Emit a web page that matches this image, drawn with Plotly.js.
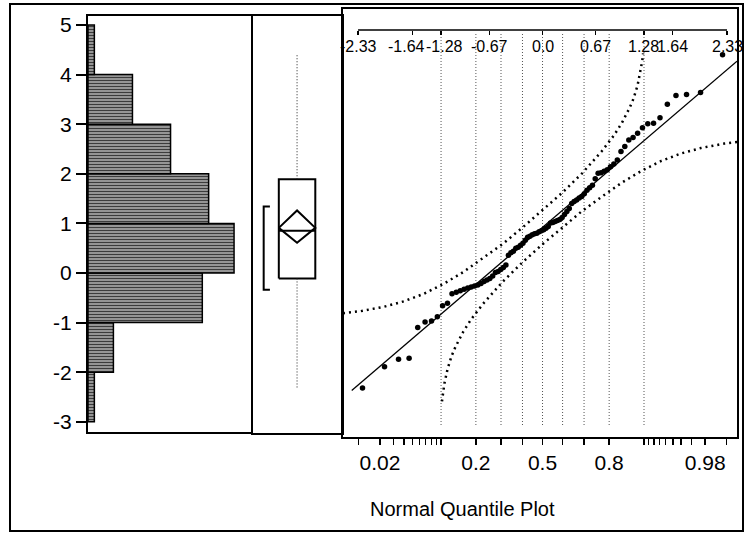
<!DOCTYPE html>
<html>
<head>
<meta charset="utf-8">
<script src="https://cdn.plot.ly/plotly-3.0.1.min.js"></script>
<style>html,body{margin:0;padding:0;background:#fff;}#chart{width:746px;height:539px;}</style>
</head>
<body>
<div id="chart"></div>
<script>
// ---------------- data ----------------
// sorted observations (n = 86)
const values = [
  -2.32, -1.89, -1.74, -1.72, -1.10,
  -0.99, -0.97, -0.88, -0.66, -0.61,
  -0.42, -0.39, -0.36, -0.33, -0.30, -0.28, -0.26, -0.24, -0.21, -0.17, -0.14, -0.11, -0.06,
  0.01, 0.03, 0.07, 0.11, 0.16, 0.36, 0.41, 0.44, 0.50, 0.52, 0.56, 0.60, 0.66, 0.72, 0.74,
  0.77, 0.79, 0.80, 0.83, 0.85, 0.87, 0.90, 0.94,
  1.01, 1.02, 1.04, 1.06, 1.08, 1.12, 1.18, 1.24, 1.30, 1.40, 1.44, 1.47, 1.51, 1.54, 1.60,
  1.67, 1.72, 1.77, 1.90,
  2.01, 2.02, 2.05, 2.08, 2.14, 2.20, 2.28, 2.45, 2.55, 2.68, 2.73, 2.82, 2.93,
  3.01, 3.02, 3.13, 3.40, 3.58, 3.60, 3.64,
  4.40
];
// y-axis tick values
const yTicks = [-3, -2, -1, 0, 1, 2, 3, 4, 5];
// box plot summary
const q1 = -0.11, median = 0.85, q3 = 1.89;
const mean = 0.91, ciLow = 0.61, ciHigh = 1.26;
const shortestLow = -0.34, shortestHigh = 1.34;
// normal fit line
const fitMean = 0.92, fitSd = 1.364;
// confidence bands
const upperBandZ = [-2.52, -2.3, -2.0, -1.75, -1.5, -1.25, -1.0, -0.75, -0.5, -0.25, 0, 0.25, 0.5, 0.75, 0.9, 1.0, 1.1, 1.15, 1.2, 1.24, 1.26, 1.27];
const upperBandY = [-0.81, -0.77, -0.68, -0.57, -0.42, -0.22, 0.02, 0.30, 0.59, 0.92, 1.26, 1.62, 2.01, 2.46, 2.77, 3.02, 3.33, 3.52, 3.78, 4.07, 4.28, 4.43];
const lowerBandZ = [-1.27, -1.26, -1.24, -1.2, -1.15, -1.1, -1.0, -0.9, -0.75, -0.5, -0.25, 0, 0.25, 0.5, 0.75, 1.0, 1.25, 1.5, 1.75, 2.0, 2.3, 2.46];
const lowerBandY = [-2.59, -2.44, -2.23, -1.94, -1.68, -1.49, -1.18, -0.93, -0.62, -0.17, 0.22, 0.58, 0.92, 1.25, 1.54, 1.82, 2.06, 2.26, 2.41, 2.52, 2.61, 2.64];
// quantile reference lines (probabilities)
const refProbs = [0.1, 0.2, 0.3, 0.4, 0.5, 0.6, 0.7, 0.8, 0.9];
// top axis (normal quantiles)
const topTickVals = [-2.33, -1.64, -1.28, -0.67, 0, 0.67, 1.28, 1.64, 2.33];
const topTickText = ['-2.33', '-1.64', '-1.28', '-0.67', '0.0', '0.67', '1.28', '1.64', '2.33'];
// bottom axis (probabilities)
const probTicks = [0.01,0.02,0.03,0.04,0.05,0.06,0.07,0.08,0.09,0.1,0.2,0.3,0.4,0.5,0.6,0.7,0.8,0.9,0.91,0.92,0.93,0.94,0.95,0.96,0.97,0.98,0.99];
const probLabels = {0.02:'0.02', 0.2:'0.2', 0.5:'0.5', 0.8:'0.8', 0.98:'0.98'};

// ---------------- helpers ----------------
function normInv(p){
  const a=[-3.969683028665376e+01,2.209460984245205e+02,-2.759285104469687e+02,1.383577518672690e+02,-3.066479806614716e+01,2.506628277459239e+00];
  const b=[-5.447609879822406e+01,1.615858368580409e+02,-1.556989798598866e+02,6.680131188771972e+01,-1.328068155288572e+01];
  const c=[-7.784894002430293e-03,-3.223964580411365e-01,-2.400758277161838e+00,-2.549732539343734e+00,4.374664141464968e+00,2.938163982698783e+00];
  const d=[7.784695709041462e-03,3.224671290700398e-01,2.445134137142996e+00,3.754408661907416e+00];
  const pl=0.02425, ph=1-pl;
  let q, r;
  if(p<pl){ q=Math.sqrt(-2*Math.log(p)); return (((((c[0]*q+c[1])*q+c[2])*q+c[3])*q+c[4])*q+c[5])/((((d[0]*q+d[1])*q+d[2])*q+d[3])*q+1); }
  if(p<=ph){ q=p-0.5; r=q*q; return (((((a[0]*r+a[1])*r+a[2])*r+a[3])*r+a[4])*r+a[5])*q/(((((b[0]*r+b[1])*r+b[2])*r+b[3])*r+b[4])*r+1); }
  q=Math.sqrt(-2*Math.log(1-p)); return -(((((c[0]*q+c[1])*q+c[2])*q+c[3])*q+c[4])*q+c[5])/((((d[0]*q+d[1])*q+d[2])*q+d[3])*q+1);
}
const W = 746, H = 539;
const px = v => v / W;
const py = v => 1 - v / H;

const sorted = values.slice().sort((a,b)=>a-b);
const n = sorted.length;
const zPos = sorted.map((v,i)=>normInv((i+1)/(n+1)));
const dataMin = sorted[0], dataMax = sorted[n-1];

// pixel-derived axis ranges (y value v sits at 273 - 49.6*v px)
const yToVal = p => (273 - p) / 49.6;
const histYRange = [yToVal(432), yToVal(16)];
const qYRange = [yToVal(437), yToVal(9)];
const zRange = [-2.52, 2.456];

// box panel x positions (0..1)
const boxL = 0.29, boxR = 0.70, boxC = 0.495, brX = 0.12, brTick = 0.19;
// small horizontal nudges for the crowded top-axis labels (px)
const topLabelShift = [0, -6, 3, 0, 0, 0, 0, 0, 0];

const black = '#000';
const traces = [];

// histogram
traces.push({
  type:'histogram', y: values, orientation:'h',
  ybins:{start:-3, end:5, size:1}, autobiny:false,
  xaxis:'x', yaxis:'y',
  marker:{color:'#8e8e8e', line:{color:black, width:1.5},
    pattern:{shape:'-', bgcolor:'#a8a8a8', fgcolor:'#3c3c3c', size:3, solidity:0.45}},
  hoverinfo:'skip'
});

// box plot parts
const boxLine = {color:black, width:2};
traces.push({type:'scatter', mode:'lines', xaxis:'x2', yaxis:'y2',
  x:[boxL,boxR,boxR,boxL,boxL], y:[q1,q1,q3,q3,q1], line:boxLine, hoverinfo:'skip'});
traces.push({type:'scatter', mode:'lines', xaxis:'x2', yaxis:'y2',
  x:[boxL,boxR], y:[median,median], line:boxLine, hoverinfo:'skip'});
traces.push({type:'scatter', mode:'lines', xaxis:'x2', yaxis:'y2',
  x:[boxL,boxC,boxR,boxC,boxL], y:[mean,ciHigh,mean,ciLow,mean], line:boxLine, hoverinfo:'skip'});
traces.push({type:'scatter', mode:'lines', xaxis:'x2', yaxis:'y2',
  x:[boxC,boxC], y:[q3,dataMax], line:{color:'#222', width:1, dash:'1px,2px'}, hoverinfo:'skip'});
traces.push({type:'scatter', mode:'lines', xaxis:'x2', yaxis:'y2',
  x:[boxC,boxC], y:[q1,dataMin], line:{color:'#222', width:1, dash:'1px,2px'}, hoverinfo:'skip'});
traces.push({type:'scatter', mode:'lines', xaxis:'x2', yaxis:'y2',
  x:[brTick,brX,brX,brTick], y:[shortestHigh,shortestHigh,shortestLow,shortestLow],
  line:{color:black, width:2}, hoverinfo:'skip'});

// quantile plot: bands
traces.push({type:'scatter', mode:'lines', xaxis:'x3', yaxis:'y3',
  x:upperBandZ, y:upperBandY, line:{color:black, width:2.5, dash:'2px,4px'}, hoverinfo:'skip'});
traces.push({type:'scatter', mode:'lines', xaxis:'x3', yaxis:'y3',
  x:lowerBandZ, y:lowerBandY, line:{color:black, width:2.5, dash:'2px,4px'}, hoverinfo:'skip'});
// fit line
const lineZ = [-2.41, zRange[1]];
traces.push({type:'scatter', mode:'lines', xaxis:'x3', yaxis:'y3',
  x:lineZ, y:lineZ.map(z=>fitMean+fitSd*z), line:{color:black, width:1.3}, hoverinfo:'skip'});
// points
traces.push({type:'scatter', mode:'markers', xaxis:'x3', yaxis:'y3',
  x:zPos, y:sorted, marker:{color:black, size:5.5}, hoverinfo:'skip', cliponaxis:true});
// invisible trace for the top axis
traces.push({type:'scatter', mode:'markers', xaxis:'x4', yaxis:'y3',
  x:[0], y:[0], marker:{opacity:0}, hoverinfo:'skip'});

// shapes
const shapes = [];
refProbs.forEach(p=>{
  const z = normInv(p);
  shapes.push({type:'line', xref:'x3', yref:'paper', x0:z, x1:z, y0:py(425), y1:py(32),
    line:{color:'#555', width:1, dash:'1px,2px'}, layer:'below'});
});
shapes.push({type:'line', xref:'x3', yref:'paper', x0:topTickVals[0], x1:topTickVals[topTickVals.length-1],
  y0:py(30), y1:py(30), line:{color:black, width:1.5}});
// outer frame
shapes.push({type:'rect', xref:'paper', yref:'paper', x0:px(10), x1:px(743), y0:py(531), y1:py(4),
  line:{color:black, width:2}, fillcolor:'rgba(0,0,0,0)'});

const font = 'Liberation Sans, Arial, Helvetica, sans-serif';
const frameAxis = {showline:true, mirror:true, linecolor:black, linewidth:2, showgrid:false, zeroline:false, fixedrange:true};

const annotations = [{text:'Normal Quantile Plot', xref:'paper', yref:'paper', x:px(368), y:py(509),
    xanchor:'left', yanchor:'middle', showarrow:false, font:{size:20, family:font, color:black}}];
topTickVals.forEach((v,i)=>{
  annotations.push({text:topTickText[i], xref:'x3', yref:'paper', x:v, y:py(46), xanchor:'center', yanchor:'middle',
    xshift:topLabelShift[i], showarrow:false, font:{size:16, family:font, color:black}});
});

const layout = {
  width:W, height:H,
  margin:{l:0, r:0, t:0, b:0},
  paper_bgcolor:'#fff', plot_bgcolor:'#fff',
  showlegend:false, bargap:0,
  font:{family:font, color:black},
  xaxis: Object.assign({}, frameAxis, {domain:[px(88), px(251)], range:[0, 25.67], showticklabels:false, ticks:'', anchor:'y'}),
  yaxis: Object.assign({}, frameAxis, {domain:[py(432), py(16)], range:histYRange, tickvals:yTicks,
    ticktext:yTicks.map(String), ticks:'outside', ticklen:10, tickwidth:2, tickcolor:black,
    tickfont:{size:21, family:font, color:black}, anchor:'x'}),
  xaxis2: Object.assign({}, frameAxis, {domain:[px(253), px(342)], range:[0,1], showticklabels:false, ticks:'', anchor:'y2'}),
  yaxis2: Object.assign({}, frameAxis, {domain:[py(433), py(16)], range:[yToVal(433), yToVal(16)], showticklabels:false, ticks:'', anchor:'x2'}),
  xaxis3: Object.assign({}, frameAxis, {domain:[px(343), px(737)], range:zRange,
    tickvals:probTicks.map(normInv), ticktext:probTicks.map(p=>probLabels[p]||''),
    ticks:'outside', ticklen:6, tickwidth:1.5, tickcolor:black, tickangle:0,
    tickfont:{size:21, family:font, color:black}, anchor:'y3'}),
  yaxis3: Object.assign({}, frameAxis, {domain:[py(437), py(9)], range:qYRange, showticklabels:false, ticks:'', anchor:'x3'}),
  xaxis4: {overlaying:'x3', anchor:'free', position:py(30), side:'bottom', range:zRange,
    tickvals:topTickVals, showticklabels:false, ticks:'outside', ticklen:4, tickwidth:1.5, tickcolor:black,
    showline:false, showgrid:false, zeroline:false, fixedrange:true},
  shapes: shapes,
  annotations: annotations
};

Plotly.newPlot('chart', traces, layout, {displayModeBar:false, staticPlot:true});
</script>
</body>
</html>
